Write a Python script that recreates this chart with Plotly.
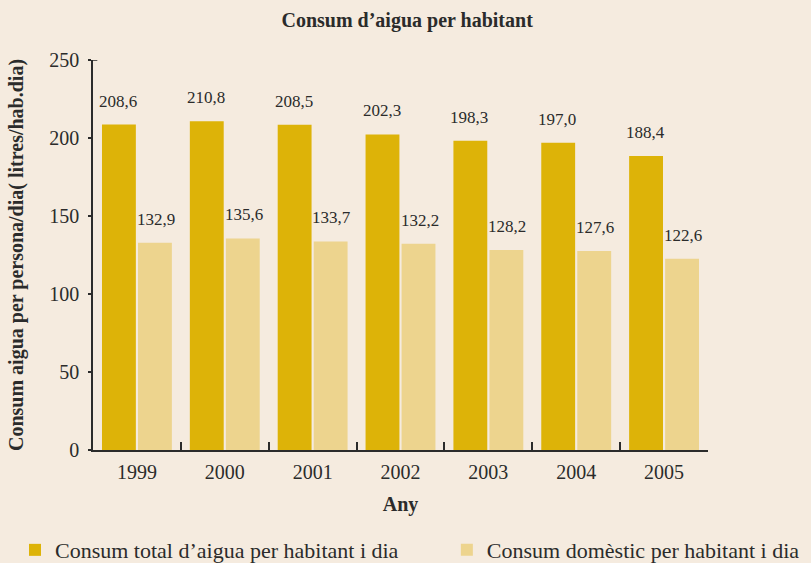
import plotly.graph_objects as go

years = ["1999", "2000", "2001", "2002", "2003", "2004", "2005"]
total = [208.6, 210.8, 208.5, 202.3, 198.3, 197.0, 188.4]
domestic = [132.9, 135.6, 133.7, 132.2, 128.2, 127.6, 122.6]
series_names = ["Consum total d\u2019aigua per habitant i dia", "Consum domèstic per habitant i dia"]
y_ticks = [0, 50, 100, 150, 200, 250]

BG = "#F5EBDF"
DARK = "#DDB308"
LIGHT = "#EDD48E"
INK = "#2B2B2B"
FONT = "Liberation Serif"

def fmt(v):
    return f"{v:.1f}".replace(".", ",")

fig = go.Figure()
fig.add_trace(go.Bar(x=years, y=total, name=series_names[0], legend="legend",
                     marker=dict(color=DARK, line=dict(width=0))))
fig.add_trace(go.Bar(x=years, y=domestic, name=series_names[1], legend="legend2",
                     marker=dict(color=LIGHT, line=dict(width=0))))

annotations = []
for i, (a, b) in enumerate(zip(total, domestic)):
    annotations.append(dict(x=i, y=a, xref="x", yref="y", text=fmt(a), showarrow=False,
                            xshift=-19, yshift=12, yanchor="bottom",
                            font=dict(family=FONT, size=17, color=INK)))
    annotations.append(dict(x=i, y=b, xref="x", yref="y", text=fmt(b), showarrow=False,
                            xshift=19, yshift=12, yanchor="bottom",
                            font=dict(family=FONT, size=17, color=INK)))

legend_common = dict(orientation="h", xref="container", yref="container", xanchor="left",
                     yanchor="middle", y=0.023, font=dict(family=FONT, size=22, color=INK),
                     itemwidth=30, bgcolor="rgba(0,0,0,0)")

fig.update_layout(
    width=811, height=563,
    paper_bgcolor=BG, plot_bgcolor=BG,
    margin=dict(l=93, r=103, t=60, b=113),
    barmode="group", bargap=0.18, bargroupgap=0.06,
    title=dict(text="<b>Consum d\u2019aigua per habitant</b>", x=0.502, xanchor="center",
               y=0.9645, yanchor="middle", font=dict(family=FONT, size=20, color=INK)),
    font=dict(family=FONT, color=INK),
    annotations=annotations,
    showlegend=True,
    legend=dict(x=0.0185, **legend_common),
    legend2=dict(x=0.551, **legend_common),
    xaxis=dict(type="category", showline=True, linecolor=INK, linewidth=1.5,
               ticks="inside", tickson="boundaries", ticklen=8, tickcolor=INK, tickwidth=1.5,
               tickfont=dict(family=FONT, size=20, color=INK), tickangle=0, ticklabelstandoff=3,
               title=dict(text="<b>Any</b>", font=dict(family=FONT, size=20, color=INK), standoff=15),
               showgrid=False, zeroline=False),
    yaxis=dict(range=[0, 250], tickvals=y_ticks, showline=True, linecolor=INK, linewidth=1.5,
               ticks="outside", ticklen=3, tickcolor=INK, tickwidth=1.5,
               tickfont=dict(family=FONT, size=20, color=INK), ticklabelstandoff=5,
               title=dict(text="<b>Consum aigua per persona/dia( litres/hab.dia)</b>",
                          font=dict(family=FONT, size=20, color=INK), standoff=20),
               showgrid=False, zeroline=False),
    shapes=[dict(type="line", xref="paper", yref="y", x0=0, x1=0.007, y0=250, y1=250,
                 line=dict(color=INK, width=1.5))],
)

fig.write_html("out.html", config={"displayModeBar": False},
               post_script="document.body.style.margin='0';")
